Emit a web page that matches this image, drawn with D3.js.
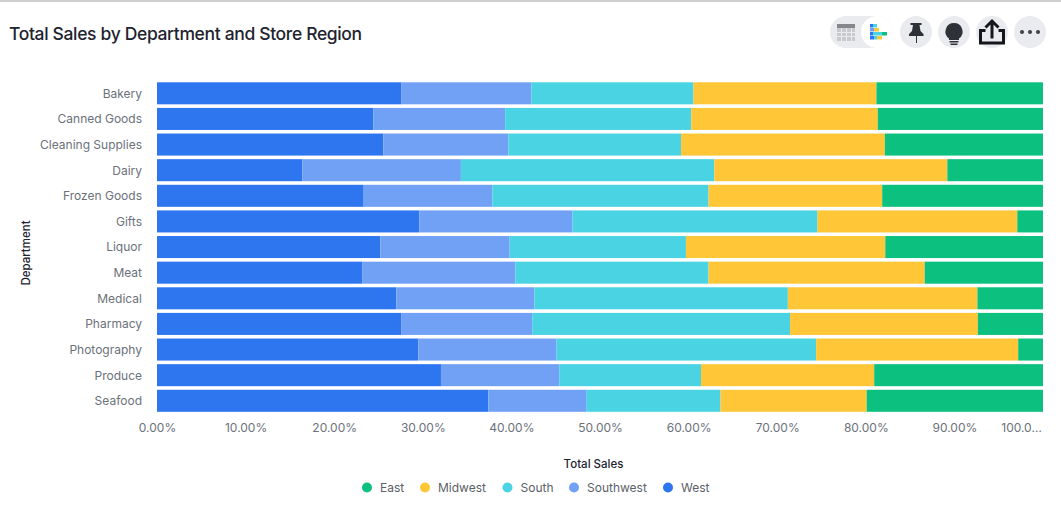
<!DOCTYPE html>
<html>
<head>
<meta charset="utf-8">
<script src="https://cdnjs.cloudflare.com/ajax/libs/d3/7.8.5/d3.min.js"></script>
<style>
  html, body { margin: 0; padding: 0; background: #fff; }
  svg { display: block; font-family: Inter, "Noto Sans", sans-serif; }
</style>
</head>
<body>
<div id="chart"></div>
<script>
// values, percent of department sales
const departments = ['Bakery', 'Canned Goods', 'Cleaning Supplies', 'Dairy', 'Frozen Goods', 'Gifts', 'Liquor', 'Meat', 'Medical', 'Pharmacy', 'Photography', 'Produce', 'Seafood'];
const regions = ['West', 'Southwest', 'South', 'Midwest', 'East'];
const legendOrder = ['East', 'Midwest', 'South', 'Southwest', 'West'];
const west = [27.55, 24.4, 25.55, 16.4, 23.25, 29.6, 25.2, 23.15, 27.0, 27.55, 29.5, 32.05, 37.4];
const southwest = [14.7, 14.9, 14.1, 17.9, 14.6, 17.3, 14.6, 17.3, 15.6, 14.8, 15.6, 13.35, 11.1];
const south = [18.3, 21.0, 19.5, 28.6, 24.4, 27.65, 19.9, 21.8, 28.6, 29.1, 29.3, 16.0, 15.1];
const midwest = [20.65, 21.05, 23.0, 26.3, 19.6, 22.55, 22.5, 24.4, 21.4, 21.2, 22.8, 19.55, 16.5];
const east = [18.8, 18.65, 17.85, 10.8, 18.15, 2.9, 17.8, 13.35, 7.4, 7.35, 2.8, 19.05, 19.9];
const xTicks = [0, 10, 20, 30, 40, 50, 60, 70, 80, 90, 100];
const regionColors = ['#2e75f0', '#71a1f4', '#4ad3e3', '#ffc637', '#0cc07f'];

const width = 1061;
const height = 524;
const margin = { top: 80.5, right: 18, bottom: 110.4, left: 157 };

const svg = d3.select('#chart').append('svg')
  .attr('width', width)
  .attr('height', height);

// grey strip along the top of the screenshot
svg.append('rect').attr('width', width).attr('height', 2).attr('fill', '#cfcfcf');

svg.append('text')
  .attr('x', 9)
  .attr('y', 39.5)
  .attr('font-size', 17.5)
  .attr('font-weight', 500)
  .attr('letter-spacing', -0.35)
  .attr('fill', '#1d232f')
  .text('Total Sales by Department and Store Region');

const rows = departments.map((name, i) => ({
  name,
  West: west[i],
  Southwest: southwest[i],
  South: south[i],
  Midwest: midwest[i],
  East: east[i]
}));

const x = d3.scaleLinear()
  .domain([0, 100])
  .range([margin.left, width - margin.right]);

const y = d3.scaleBand()
  .domain(departments)
  .range([margin.top, height - margin.bottom])
  .paddingInner(0.14)
  .paddingOuter(0.07);

const color = d3.scaleOrdinal().domain(regions).range(regionColors);

const stacked = d3.stack().keys(regions)(rows);

svg.append('g')
  .selectAll('g')
  .data(stacked)
  .join('g')
  .attr('fill', d => color(d.key))
  .selectAll('rect')
  .data(d => d)
  .join('rect')
  .attr('x', d => x(d[0]))
  .attr('y', d => y(d.data.name))
  .attr('width', d => x(d[1]) - x(d[0]))
  .attr('height', y.bandwidth());

// axes
const yAxis = d3.axisLeft(y).tickSize(0).tickPadding(15);
const gy = svg.append('g')
  .attr('transform', 'translate(' + margin.left + ',0.5)')
  .call(yAxis);

const xAxis = d3.axisBottom(x)
  .tickValues(xTicks)
  .tickSize(0)
  .tickPadding(9.5)
  .tickFormat(d => d === 100 ? '100.0…' : d3.format('.2f')(d) + '%');
const gx = svg.append('g')
  .attr('transform', 'translate(0,' + (height - margin.bottom) + ')')
  .call(xAxis);

[gx, gy].forEach(g => {
  g.select('.domain').remove();
  g.selectAll('text')
    .attr('font-family', 'Inter, "Noto Sans", sans-serif')
    .attr('font-size', 12)
    .attr('fill', '#6c717a');
});

// last tick is pulled in so it stays inside the plot
gx.selectAll('.tick').filter(d => d === 100).select('text').attr('dx', -22);

svg.append('text')
  .attr('x', 593.5)
  .attr('y', 468)
  .attr('text-anchor', 'middle')
  .attr('font-size', 11.5)
  .attr('font-weight', 500)
  .attr('fill', '#1d232f')
  .text('Total Sales');

svg.append('text')
  .attr('transform', 'translate(30,253) rotate(-90)')
  .attr('text-anchor', 'middle')
  .attr('font-size', 11.5)
  .attr('font-weight', 500)
  .attr('fill', '#1d232f')
  .text('Department');

// legend
const legendPos = { East: 367, Midwest: 425, South: 507.5, Southwest: 574, West: 668 };
const legend = svg.append('g')
  .selectAll('g')
  .data(legendOrder)
  .join('g')
  .attr('transform', d => 'translate(' + legendPos[d] + ',487.5)');
legend.append('circle').attr('r', 5).attr('fill', d => color(d));
legend.append('text')
  .attr('x', 13)
  .attr('y', 4.3)
  .attr('font-size', 12)
  .attr('fill', '#5c6068')
  .text(d => d);

// toolbar icons
const bar = svg.append('g');
bar.append('rect').attr('x', 830).attr('y', 16).attr('width', 63).attr('height', 32).attr('rx', 16).attr('fill', '#eaebef');
bar.append('circle').attr('cx', 877).attr('cy', 32).attr('r', 16).attr('fill', '#fff');
[916, 954, 992, 1030].forEach(cx => {
  bar.append('circle').attr('cx', cx).attr('cy', 32).attr('r', 16).attr('fill', '#eaebef');
});

// table icon
bar.append('rect').attr('x', 837).attr('y', 24).attr('width', 18).attr('height', 17).attr('fill', '#c9cace');
bar.append('rect').attr('x', 837).attr('y', 24).attr('width', 18).attr('height', 4).attr('fill', '#85878c');
[841, 846, 851].forEach(lx => {
  bar.append('rect').attr('x', lx).attr('y', 28).attr('width', 1).attr('height', 13).attr('fill', '#eaebef');
});
[32, 36].forEach(ly => {
  bar.append('rect').attr('x', 837).attr('y', ly).attr('width', 18).attr('height', 1).attr('fill', '#eaebef');
});

// small stacked bars icon
[[870, 24, 3, '#2e75f0'], [873, 24, 4, '#4ad3e3'],
 [870, 28, 4, '#71a1f4'], [874, 28, 5, '#ffc637'],
 [870, 32, 3, '#2e75f0'], [873, 32, 9, '#4ad3e3'], [882, 32, 5, '#0cc07f'],
 [870, 36, 4, '#2e75f0'], [874, 36, 3, '#4ad3e3'], [877, 36, 5, '#ffc637']].forEach(b => {
  bar.append('rect').attr('x', b[0]).attr('y', b[1]).attr('width', b[2]).attr('height', 3.5).attr('fill', b[3]);
});

// pin
bar.append('path')
  .attr('d', 'M910.5 23h11v2h-2l1 6 3 3v2h-6.5v7h-1v-7H909v-2l3-3 1-6h-2.5z')
  .attr('fill', '#2f3138');

// bulb
bar.append('path')
  .attr('d', 'M954 23a8.5 8.5 0 0 0-5 15.4V40h10v-1.6A8.5 8.5 0 0 0 954 23z')
  .attr('fill', '#2f3138');
bar.append('rect').attr('x', 949.5).attr('y', 41).attr('width', 9).attr('height', 1.5).attr('fill', '#2f3138');
bar.append('rect').attr('x', 950.5).attr('y', 43.5).attr('width', 7).attr('height', 1.5).attr('fill', '#2f3138');

// share
bar.append('path')
  .attr('d', 'M992 21.5v17M985.5 27.5l6.5-6.5 6.5 6.5M985.5 30.5h-5v12.5h23V30.5h-5')
  .attr('fill', 'none')
  .attr('stroke', '#14171c')
  .attr('stroke-width', 3);

// dots
[1022, 1030, 1038].forEach(cx => {
  bar.append('circle').attr('cx', cx).attr('cy', 32).attr('r', 2).attr('fill', '#3c3f46');
});
</script>
</body>
</html>
